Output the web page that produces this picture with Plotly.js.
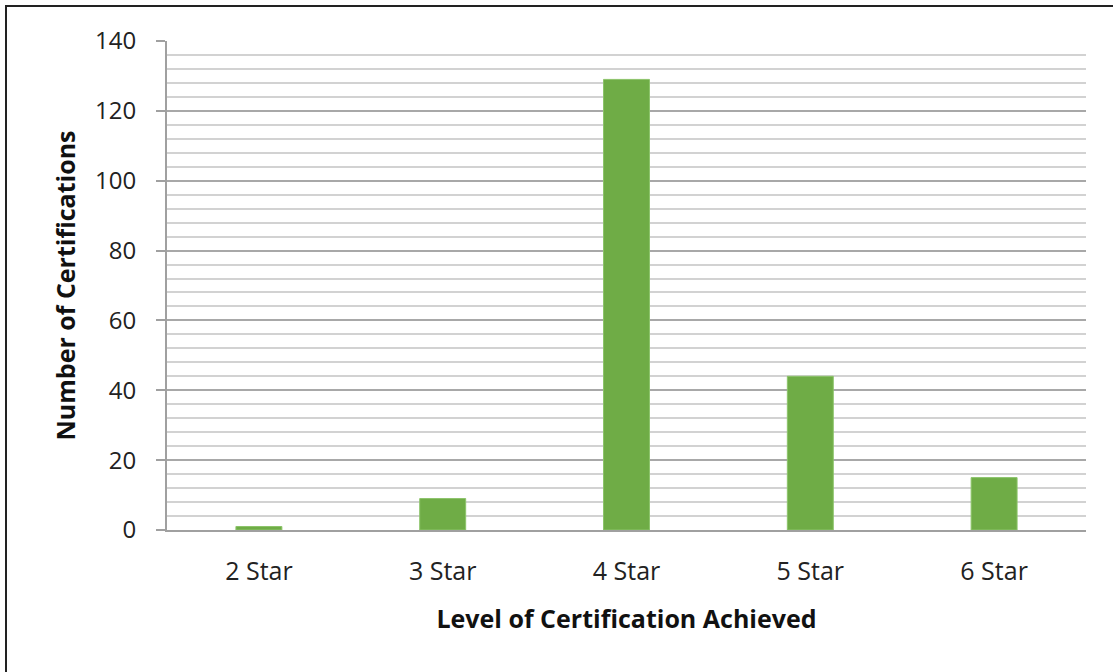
<!DOCTYPE html>
<html>
<head>
<meta charset="utf-8">
<script src="https://cdn.plot.ly/plotly-3.0.1.min.js"></script>
<style>
  html, body { margin: 0; padding: 0; background: #fff; }
  #wrap { position: absolute; left: 0; top: 0; width: 1113px; height: 672px; }
  #frame { position: absolute; left: 5px; top: 5px; width: 1120px; height: 680px;
           border-top: 2px solid #222; border-left: 2px solid #222; pointer-events: none; }
  #chart { position: absolute; left: 0; top: 0; width: 1113px; height: 672px; }
</style>
</head>
<body>
<div id="wrap">
  <div id="chart"></div>
  <div id="frame"></div>
</div>
<script>
const categories = ["2 Star", "3 Star", "4 Star", "5 Star", "6 Star"];
const certifications = [1, 9, 129, 44, 15];
const yTickValues = [0, 20, 40, 60, 80, 100, 120, 140];

const FONT = "'Open Sans', 'Noto Sans', sans-serif";

const trace = {
  type: "bar",
  x: categories,
  y: certifications,
  marker: { color: "#6fac46", line: { color: "#8cc46a", width: 1 } },
  hoverinfo: "x+y"
};

const layout = {
  width: 1113,
  height: 672,
  margin: { l: 167, r: 27, t: 41, b: 142 },
  paper_bgcolor: "#ffffff",
  plot_bgcolor: "#ffffff",
  bargap: 0.75,
  showlegend: false,
  font: { family: FONT, color: "#222222" },
  xaxis: {
    type: "category",
    showline: true,
    linecolor: "#a0a0a0",
    linewidth: 2,
    ticks: "",
    showgrid: false,
    tickfont: { family: FONT, size: 25, color: "#222222" },
    ticklabelstandoff: 18,
    title: { text: "<b>Level of Certification Achieved</b>", font: { family: FONT, size: 25, color: "#111111" }, standoff: 24 }
  },
  yaxis: {
    range: [0, 140],
    tickvals: yTickValues,
    ticktext: yTickValues.map(String),
    showline: true,
    linecolor: "#a0a0a0",
    linewidth: 2,
    ticks: "outside",
    ticklen: 9,
    tickwidth: 2,
    tickcolor: "#a0a0a0",
    showgrid: true,
    gridcolor: "#a8a8a8",
    gridwidth: 2,
    zeroline: false,
    minor: { dtick: 4, showgrid: true, gridcolor: "#d2d2d2", gridwidth: 2, ticks: "" },
    tickfont: { family: FONT, size: 24, color: "#222222" },
    ticklabelstandoff: 15,
    title: { text: "<b>Number of Certifications</b>", font: { family: FONT, size: 25, color: "#111111" }, standoff: 12 }
  }
};

Plotly.newPlot("chart", [trace], layout, { displayModeBar: false, staticPlot: true });
</script>
</body>
</html>
